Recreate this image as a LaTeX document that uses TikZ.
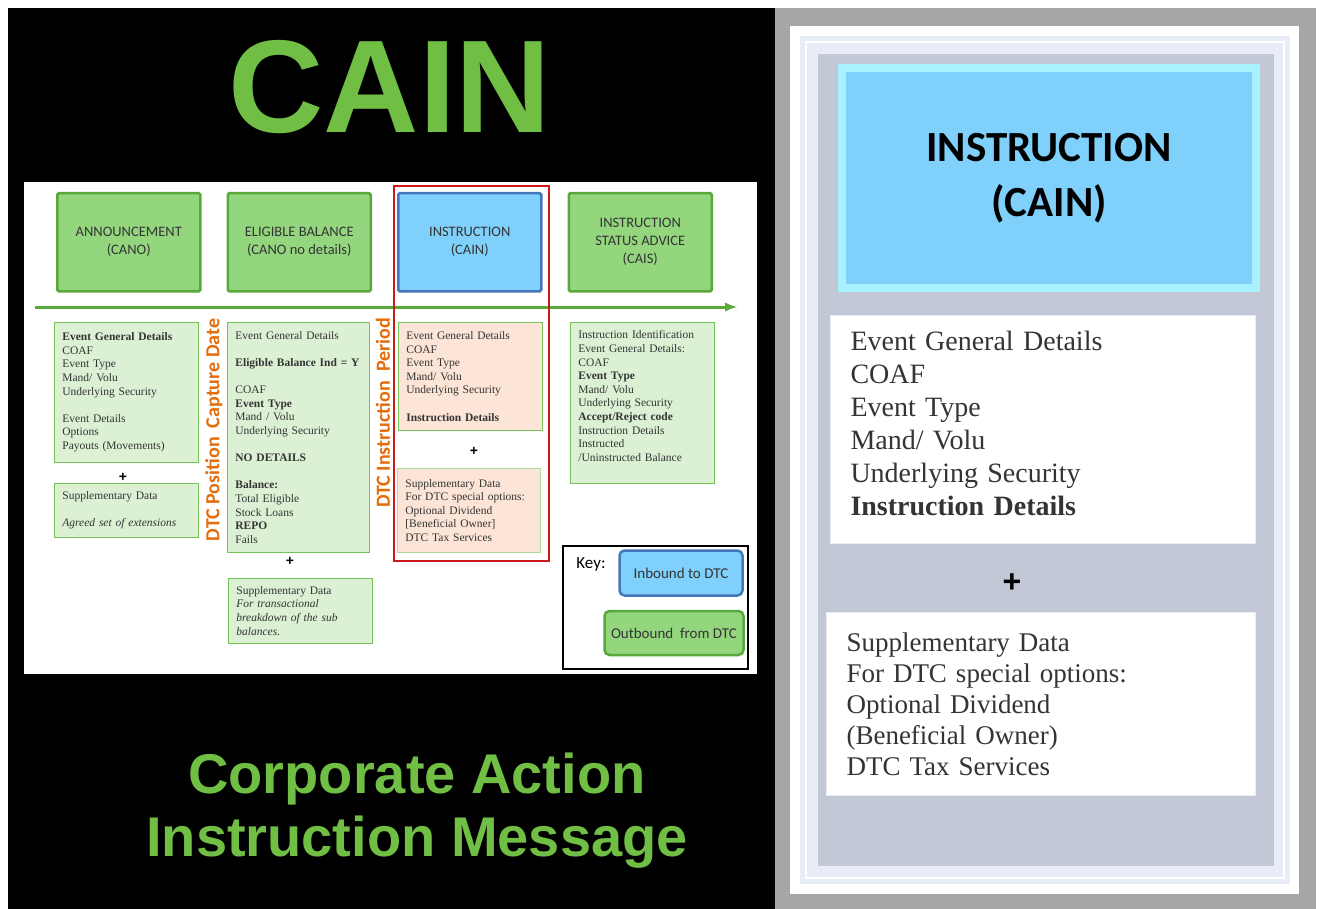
\documentclass[tikz,border=0pt]{standalone}
\usepackage{fontspec}
\setmainfont{Liberation Serif}
\newfontfamily\calibfont{Carlito}
\newfontfamily\arialfont{Liberation Sans}
\usepackage{xcolor}
\usetikzlibrary{positioning}
\usetikzlibrary{arrows}
\definecolor{titlegreen}{RGB}{112,190,68}
\definecolor{stagefill}{RGB}{148,214,126}
\definecolor{stageline}{RGB}{88,168,60}
\definecolor{infill}{RGB}{127,208,251}
\definecolor{inline}{RGB}{70,118,186}
\definecolor{detailfill}{RGB}{220,240,212}
\definecolor{detailline}{RGB}{118,194,88}
\definecolor{peachfill}{RGB}{252,228,214}
\definecolor{sideorange}{RGB}{228,108,10}
\definecolor{framered}{RGB}{204,24,24}
\definecolor{darktext}{RGB}{52,52,52}
\definecolor{panelgray}{RGB}{166,166,166}
\definecolor{panelfill}{RGB}{195,200,214}
\definecolor{bevelpale}{RGB}{232,236,246}
\definecolor{bigcyan}{RGB}{168,242,255}
\newcommand\boxlabelfont{\calibfont\fontsize{14.5}{18}\selectfont}
\newcommand\smalldetail{\fontsize{11.5}{13.6}\selectfont}
\newcommand\bigdetail{\fontsize{28}{33}\selectfont}
\tikzset{stagebox/.style={draw=stageline, line width=2.5pt, fill=stagefill,
minimum width=143pt, minimum height=98pt, align=center, font=\boxlabelfont,
text=darktext, rounded corners=1.5pt},
inbox/.style={stagebox, draw=inline, fill=infill},
detailbox/.style={draw=detailline, line width=0.8pt, fill=detailfill,
anchor=north west, align=left, font=\smalldetail, text=darktext, inner sep=8pt},
peachbox/.style={detailbox, fill=peachfill},
sidelabel/.style={rotate=90, text=sideorange, font=\calibfont\bfseries\fontsize{20}{22}\selectfont},
plussign/.style={font=\arialfont\bfseries\fontsize{14}{14}\selectfont},
keytag/.style={rounded corners=5pt, line width=2.5pt, font=\calibfont\fontsize{15}{18}\selectfont, text=darktext},
whitebox/.style={fill=white, draw=bevelpale, line width=1pt, anchor=north west, align=left,
font=\bigdetail, text=darktext, inner sep=20pt}}
\begin{document}
\begin{tikzpicture}[x=1pt, y=-1pt]
	\useasboundingbox (0,0) rectangle (1319,909);
	\fill[white] (0,0) rectangle (1319,909);
	\fill[black] (8,8) rectangle (775,909);
	\node[anchor=base, text=titlegreen, font=\arialfont\bfseries\fontsize{132}{140}\selectfont] (title) at (390,133) {CAIN};
	\fill[white] (24,182) rectangle (757,674);
	\node[stagebox, anchor=north west] (ann) at (56,192) {ANNOUNCEMENT\\(CANO)};
	\node[stagebox, right=25pt of ann] (elig) {ELIGIBLE BALANCE\\(CANO no details)};
	\node[inbox, right=25pt of elig] (inst) {INSTRUCTION\\(CAIN)};
	\node[stagebox, right=25pt of inst] (status) {INSTRUCTION\\STATUS ADVICE\\(CAIS)};
	\coordinate (tl start) at (35,307);
	\coordinate (tl end) at (737,307);
	\draw[stageline, line width=3pt, -latex] (tl start) -- (tl end);
	\draw[framered, line width=1.2pt] (394,186) rectangle (549,561);
	\node[detailbox, text width=128pt, minimum width=144pt, minimum height=140pt] (ann details) at (54,322)
		{\textbf{Event General Details}\\COAF\\Event Type\\Mand/ Volu\\Underlying Security\\[13.6pt]Event Details\\Options\\Payouts (Movements)};
	\node[plussign] (ann plus) at (123,477) {+};
	\node[detailbox, text width=128pt, minimum width=144pt, minimum height=53pt] (ann supp) at (54,483)
		{Supplementary Data\\[13.6pt]\textit{Agreed set of extensions}};
	\node[sidelabel] (capture) at (214,430) {DTC Position\ \ Capture Date};
	\node[detailbox, text width=126pt, minimum width=142pt, minimum height=230pt] (elig details) at (227,322)
		{Event General Details\\[13.6pt]\textbf{Eligible Balance Ind = Y}\\[13.6pt]COAF\\\textbf{Event Type}\\Mand / Volu\\Underlying Security\\[13.6pt]\textbf{NO DETAILS}\\[13.6pt]\textbf{Balance:}\\Total Eligible\\Stock Loans\\\textbf{REPO}\\Fails};
	\node[plussign] (elig plus) at (290,561) {+};
	\node[detailbox, text width=128pt, minimum width=144pt, minimum height=59pt] (elig supp) at (228,578)
		{Supplementary Data\\\textit{For transactional}\\\textit{breakdown of the sub}\\\textit{balances.}};
	\node[sidelabel] (period) at (383,413) {DTC Instruction\ \ Period};
	\node[peachbox, text width=128pt, minimum width=144pt, minimum height=108pt] (inst details) at (398,322)
		{Event General Details\\COAF\\Event Type\\Mand/ Volu\\Underlying Security\\[13.6pt]\textbf{Instruction Details}};
	\node[plussign] (inst plus) at (474,451) {+};
	\node[peachbox, draw=detailline!60, text width=127pt, minimum width=143pt, minimum height=84pt] (inst supp) at (397,468)
		{Supplementary Data\\For DTC special options:\\Optional Dividend\\{[}Beneficial Owner{]}\\DTC Tax Services};
	\node[detailbox, text width=128pt, minimum width=144pt, minimum height=161pt] (status details) at (570,322)
		{Instruction Identification\\Event General Details:\\COAF\\\textbf{Event Type}\\Mand/ Volu\\Underlying Security\\\textbf{Accept/Reject code}\\Instruction Details\\Instructed\\/Uninstructed Balance\\~};
	\node[draw=black, line width=2pt, fill=white, anchor=north west, minimum width=185pt, minimum height=123pt] (key) at (562,545) {};
	\node[font=\calibfont\fontsize{17}{20}\selectfont] (key label) at (591,564) {Key:};
	\node[keytag, draw=inline, fill=infill, minimum width=123pt, minimum height=45pt] (inbound) at (681,573) {Inbound to DTC};
	\node[keytag, draw=stageline, fill=stagefill, minimum width=139pt, minimum height=44pt] (outbound) at (674,633) {Outbound\ \ from DTC};
	\node[anchor=base, text=titlegreen, font=\arialfont\bfseries\fontsize{56}{63}\selectfont] (caption top) at (417,793) {Corporate Action};
	\node[anchor=base, text=titlegreen, font=\arialfont\bfseries\fontsize{56}{63}\selectfont] (caption bottom) at (417,856) {Instruction Message};
	\fill[panelgray] (775,8) rectangle (1316,909);
	\fill[white] (790,26) rectangle (1299,894);
	\fill[bevelpale] (800,36) rectangle (1290,884);
	\draw[white, line width=2pt] (806,42) rectangle (1284,878);
	\fill[panelfill] (818,54) rectangle (1274,866);
	\node[draw=bigcyan, line width=8pt, fill=infill, anchor=north west, minimum width=414pt, minimum height=220pt,
		align=center, font=\calibfont\bfseries\fontsize{43}{55}\selectfont, text=black] (big inst) at (838,64) {INSTRUCTION\\(CAIN)};
	\node[whitebox, inner ysep=8pt, text width=385pt, minimum width=425pt, minimum height=228pt] (big details) at (830,315)
		{Event General Details\\COAF\\Event Type\\Mand/ Volu\\Underlying Security\\\textbf{Instruction Details}\\[-20pt]~};
	\node[plussign, font=\arialfont\bfseries\fontsize{32}{32}\selectfont] (big plus) at (1012,583) {+};
	\node[whitebox, font=\fontsize{27}{31}\selectfont, text width=389pt, minimum width=429pt, minimum height=183pt] (big supp) at (826,612)
		{Supplementary Data\\For DTC special options:\\Optional Dividend\\(Beneficial Owner)\\DTC Tax Services};
\end{tikzpicture}
\end{document}
